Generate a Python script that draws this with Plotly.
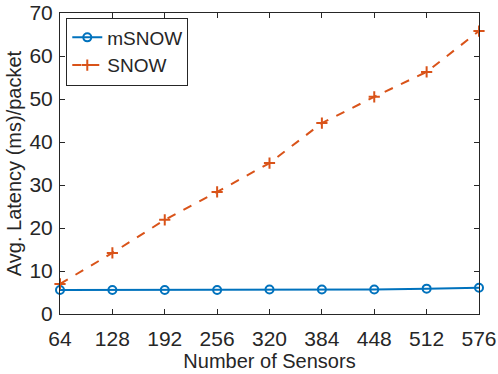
import plotly.graph_objects as go

sensors = [64, 128, 192, 256, 320, 384, 448, 512, 576]
msnow = [5.6, 5.6, 5.6, 5.6, 5.7, 5.7, 5.7, 5.9, 6.1]
snow = [7.0, 14.2, 21.9, 28.4, 35.1, 44.4, 50.5, 56.3, 65.8]
y_ticks = [0, 10, 20, 30, 40, 50, 60, 70]

fig = go.Figure()
fig.add_trace(go.Scatter(x=sensors, y=msnow, mode='lines+markers', name='mSNOW',
                         line=dict(color='#0072BD', width=2),
                         marker=dict(symbol='circle-open', size=8, color='#0072BD',
                                     line=dict(width=2)), cliponaxis=False))
fig.add_trace(go.Scatter(x=sensors, y=snow, mode='lines+markers', name='SNOW',
                         line=dict(color='#D95319', width=2, dash='dash'),
                         marker=dict(symbol='cross-thin-open', size=8, color='#D95319',
                                     line=dict(width=2, color='#D95319')), cliponaxis=False))

axis_style = dict(showline=True, linecolor='#262626', linewidth=1, mirror='ticks',
                  ticks='inside', ticklen=5, tickcolor='#262626', showgrid=False,
                  zeroline=False, automargin=False, tickfont=dict(size=21, color='#262626'))

fig.update_layout(
    width=498, height=374,
    margin=dict(l=60, r=19, t=13, b=60),
    paper_bgcolor='white', plot_bgcolor='white',
    font=dict(family='Liberation Sans, Arial, sans-serif', color='#262626'),
    xaxis=dict(range=[64, 576], tickvals=sensors, ticklabelstandoff=6,
               title=dict(text='Number of Sensors', font=dict(size=20), standoff=0),
               **axis_style),
    yaxis=dict(range=[0, 70], tickvals=y_ticks, ticklabelstandoff=2,
               title=dict(text='Avg. Latency (ms)/packet', font=dict(size=20), standoff=2),
               **axis_style),
    legend=dict(x=0.015, y=0.985, xanchor='left', yanchor='top', bgcolor='white',
                bordercolor='#262626', borderwidth=1, font=dict(size=19),
                tracegroupgap=0, itemwidth=30),
    showlegend=True,
)

# drop the page's default body margin so the figure fills the window
fig.write_html("out.html", config={'displayModeBar': False},
               post_script="document.body.style.margin='0';")
